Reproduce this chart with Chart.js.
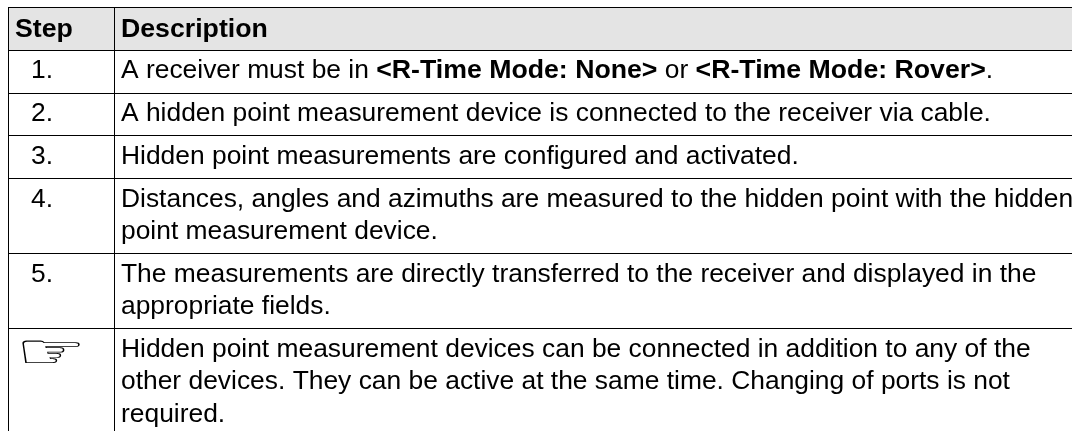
<!DOCTYPE html>
<html>
<head>
<meta charset="utf-8">
<title>Hidden point measurement steps</title>
<script src="https://cdn.jsdelivr.net/npm/chart.js@4"></script>
<style>
  html, body { margin: 0; padding: 0; background: #fff; overflow: hidden; }
  canvas { display: block; }
</style>
</head>
<body>
<canvas id="table" width="1072" height="431"></canvas>
<script>
const headers = ['Step', 'Description']
const steps = ['1.', '2.', '3.', '4.', '5.', '\u261E']
// each line is a list of [text, bold] runs
const descriptions = [
  [[['A receiver must be in ', false], ['<R-Time Mode: None>', true], [' or ', false], ['<R-Time Mode: Rover>', true], ['.', false]]],
  [[['A hidden point measurement device is connected to the receiver via cable.', false]]],
  [[['Hidden point measurements are configured and activated.', false]]],
  [[['Distances, angles and azimuths are measured to the hidden point with the hidden', false]],
   [['point measurement device.', false]]],
  [[['The measurements are directly transferred to the receiver and displayed in the', false]],
   [['appropriate fields.', false]]],
  [[['Hidden point measurement devices can be connected in addition to any of the', false]],
   [['other devices. They can be active at the same time. Changing of ports is not', false]],
   [['required.', false]]],
]

const FONT = '"Liberation Sans", Arial, sans-serif'
const SIZE = 26.4
const BOLD_SIZE = 26.7
const LINE_H = 32.7
const HEAD_H = 42.75
const EXTRA_LINE = 32.25
const COL_X = 106
const Y_MAX = 423.5

// row edges on the y scale, header first
const rowEdges = [0, HEAD_H]
descriptions.forEach((d) => rowEdges.push(rowEdges[rowEdges.length - 1] + HEAD_H + (d.length - 1) * EXTRA_LINE))

const tablePlugin = {
  id: 'tableText',
  afterDatasetsDraw(chart) {
    const { ctx, scales: { x, y } } = chart
    const descX = x.getPixelForValue(COL_X) + 7
    ctx.save()
    ctx.fillStyle = '#000'
    ctx.textBaseline = 'alphabetic'
    ctx.font = `bold ${BOLD_SIZE}px ${FONT}`
    ctx.fillText(headers[0], 15, y.getPixelForValue(0) + 29)
    ctx.fillText(headers[1], descX, y.getPixelForValue(0) + 29)
    steps.forEach((s, i) => {
      const top = y.getPixelForValue(rowEdges[i + 1])
      if (s === '\u261E') {
        // glyph is narrower than the original hand, so stretch it sideways
        ctx.save()
        ctx.translate(15.5, top + 39)
        ctx.scale(1.65, 1)
        ctx.font = '48px "DejaVu Sans"'
        ctx.fillText(s, 0, 0)
        ctx.restore()
      } else {
        ctx.font = `${SIZE}px ${FONT}`
        ctx.fillText(s, 31, top + 28)
      }
      descriptions[i].forEach((line, l) => {
        let cx = descX
        line.forEach(([text, bold]) => {
          ctx.font = bold ? `bold ${BOLD_SIZE}px ${FONT}` : `${SIZE}px ${FONT}`
          ctx.fillText(text, cx, top + 28 + l * LINE_H)
          cx += ctx.measureText(text).width
        })
      })
    })
    ctx.restore()
  },
}

new Chart(document.getElementById('table'), {
  type: 'bar',
  data: {
    labels: headers,
    datasets: [{
      data: [{ x: 532, y: [0, HEAD_H] }],
      backgroundColor: '#e4e4e4',
      borderWidth: 0,
      barThickness: 1064,
    }],
  },
  options: {
    responsive: false,
    animation: false,
    layout: { padding: { left: 8, top: 7.5, right: 0, bottom: 0 } },
    plugins: { legend: { display: false }, tooltip: { enabled: false } },
    scales: {
      x: {
        type: 'linear',
        offset: false,
        min: 0,
        max: 1064,
        afterBuildTicks(axis) { axis.ticks = [{ value: 0 }, { value: COL_X }] },
        ticks: { display: false },
        border: { display: false },
        grid: { color: '#000', lineWidth: 1, drawTicks: false, offset: false, z: 1 },
      },
      y: {
        type: 'linear',
        reverse: true,
        min: 0,
        max: Y_MAX,
        afterBuildTicks(axis) { axis.ticks = rowEdges.filter((v) => v <= Y_MAX).map((value) => ({ value })) },
        ticks: { display: false },
        border: { display: false },
        grid: { color: '#000', lineWidth: 1, drawTicks: false, z: 1 },
      },
    },
  },
  plugins: [tablePlugin],
})
</script>
</body>
</html>
